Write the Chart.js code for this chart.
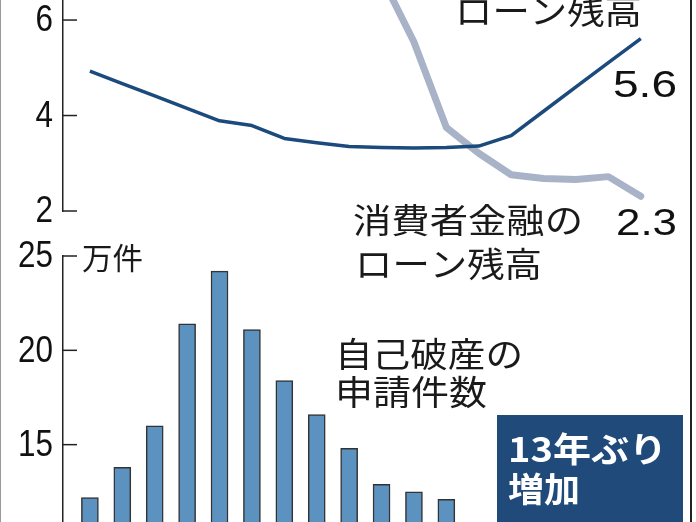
<!DOCTYPE html>
<html lang="ja">
<head>
<meta charset="utf-8">
<script src="https://cdn.jsdelivr.net/npm/chart.js@4.4.0/dist/chart.umd.min.js"></script>
<style>
  html, body { margin: 0; padding: 0; background: #fff; }
  #wrap { position: relative; width: 696px; height: 522px; overflow: hidden; }
  #wrap canvas { position: absolute; left: 0; top: 0; }
  #frame { position: absolute; left: 0; top: 0; width: 689px; height: 522px;
           border-left: 1.5px solid #9a9a9a; border-right: 2.5px solid #222; pointer-events: none; }
</style>
</head>
<body>
<div id="wrap">
  <canvas id="barChart" width="696" height="522"></canvas>
  <canvas id="lineChart" width="696" height="522"></canvas>
  <div id="frame"></div>
</div>
<script>
// 年
const years = [1999, 2000, 2001, 2002, 2003, 2004, 2005, 2006, 2007,
               2008, 2009, 2010, 2011, 2012, 2013, 2014, 2015, 2016];
// 自己破産の申請件数（万件）  2011年以降は下端で切れていて見えない
const bankruptcy = [12.2, 13.8, 16.0, 21.4, 24.2, 21.1, 18.4, 16.6, 14.8,
                    12.9, 12.5, 12.1, 10.0, 8.2, 7.2, 6.5, 6.3, 6.4];
// 銀行カードローン残高（兆円）
const bankLoan = [4.93, 4.67, 4.41, 4.15, 3.89, 3.79, 3.52, 3.43, 3.35,
                  3.33, 3.32, 3.33, 3.36, 3.58, 4.09, 4.60, 5.11, 5.61];
// 消費者金融のローン残高（兆円）  2007年以前は上端の外
const consumerLoan = [8.5, 9.2, 9.8, 10.1, 10.0, 9.8, 9.9, 10.2, 9.0,
                      6.9, 5.54, 3.75, 3.21, 2.76, 2.68, 2.66, 2.72, 2.31];
const lineTicks = [2, 4, 6];
const barTicks = [15, 20, 25];

const jpFont = "'Noto Sans CJK JP'";

function xAxis() {
  return { type: "linear", display: false, offset: false, min: 1998.17, max: 2017.21 };
}

function yAxis(min, max, ticks) {
  return {
    min: min,
    max: max,
    afterBuildTicks: (s) => { s.ticks = ticks.map((v) => ({ value: v })); },
    afterFit: (s) => { s.width = 63; s.paddingTop = 0; s.paddingBottom = 0; },
    grid: { display: true, drawOnChartArea: false, drawTicks: false },
    border: { display: true, color: "#222", width: 1.5 },
    ticks: { display: false },
  };
}

//目盛りは軸の内側、数字は細めの字で軸の左に描く
const innerTicks = {
  id: "innerTicks",
  afterDraw(chart) {
    const { ctx, chartArea } = chart;
    const y = chart.scales.y;
    ctx.save();
    ctx.strokeStyle = "#222";
    ctx.lineWidth = 1.5;
    y.ticks.forEach((t) => {
      const py = y.getPixelForValue(t.value);
      ctx.beginPath();
      ctx.moveTo(chartArea.left, py);
      ctx.lineTo(chartArea.left + 14, py);
      ctx.stroke();
      ctx.save();
      ctx.font = "37px 'Liberation Sans'";
      ctx.fillStyle = "#111";
      ctx.textAlign = "right";
      ctx.textBaseline = "middle";
      ctx.translate(chartArea.left - 10, py + 1);
      ctx.scale(0.85, 1);
      ctx.fillText(String(t.value), 0, 0);
      ctx.restore();
    });
    ctx.restore();
  },
};

function fitText(ctx, str, x, y, width, font, color) {
  ctx.save();
  ctx.font = font;
  ctx.fillStyle = color;
  ctx.textBaseline = "middle";
  ctx.textAlign = "left";
  const w = ctx.measureText(str).width;
  ctx.translate(x, y);
  ctx.scale(width / w, 1);
  ctx.fillText(str, 0, 0);
  ctx.restore();
}

const lineLabels = {
  id: "lineLabels",
  afterDraw(chart) {
    const ctx = chart.ctx;
    fitText(ctx, "ローン残高", 455, 11, 187, "34px " + jpFont, "#1a1a1a");
    fitText(ctx, bankLoan[bankLoan.length - 1].toFixed(1), 613, 87, 64, "36px 'Liberation Sans'", "#111");
    fitText(ctx, consumerLoan[consumerLoan.length - 1].toFixed(1), 616, 225, 61, "36px 'Liberation Sans'", "#111");
    fitText(ctx, "消費者金融の", 353, 220, 230, "34px " + jpFont, "#1a1a1a");
    fitText(ctx, "ローン残高", 355, 264, 187, "34px " + jpFont, "#1a1a1a");
  },
};

const barLabels = {
  id: "barLabels",
  afterDraw(chart) {
    const ctx = chart.ctx;
    fitText(ctx, "万件", 82, 258, 61, "30px " + jpFont, "#1a1a1a");
    fitText(ctx, "自己破産の", 335, 354, 188, "34px " + jpFont, "#1a1a1a");
    fitText(ctx, "申請件数", 335, 392, 152, "34px " + jpFont, "#1a1a1a");
    ctx.save();
    ctx.fillStyle = "#1f4a7a";
    ctx.fillRect(497, 415, 186, 120);
    ctx.restore();
    fitText(ctx, "13年ぶり", 508, 449, 159, "bold 34px " + jpFont, "#fff");
    fitText(ctx, "増加", 508, 489, 72, "bold 34px " + jpFont, "#fff");
  },
};

new Chart(document.getElementById("lineChart"), {
  type: "line",
  data: {
    datasets: [
      {
        label: "銀行カードローン残高",
        data: bankLoan.map((v, i) => ({ x: years[i], y: v })),
        borderColor: "#1b4a7c",
        borderWidth: 3.5,
        borderJoinStyle: "round",
        pointRadius: 0,
        tension: 0,
      },
      {
        label: "消費者金融のローン残高",
        data: consumerLoan.map((v, i) => ({ x: years[i], y: v })),
        borderColor: "#a9b3c8",
        borderWidth: 7,
        borderCapStyle: "round",
        borderJoinStyle: "round",
        pointRadius: 0,
        tension: 0,
      },
    ],
  },
  plugins: [innerTicks, lineLabels],
  options: {
    responsive: false,
    animation: false,
    layout: { padding: { top: 0, bottom: 311, left: 0, right: 16 } },
    plugins: { legend: { display: false }, tooltip: { enabled: false } },
    scales: { x: xAxis(), y: yAxis(2, 6.42, lineTicks) },
  },
});

new Chart(document.getElementById("barChart"), {
  type: "bar",
  data: {
    datasets: [
      {
        label: "自己破産の申請件数",
        data: bankruptcy.map((v, i) => ({ x: years[i], y: v })),
        backgroundColor: "#5b92bf",
        borderColor: "#333",
        borderWidth: 1.5,
        barThickness: 17,
      },
    ],
  },
  plugins: [innerTicks, barLabels],
  options: {
    responsive: false,
    animation: false,
    layout: { padding: { top: 256, bottom: 0, left: 0, right: 16 } },
    plugins: { legend: { display: false }, tooltip: { enabled: false } },
    scales: { x: xAxis(), y: yAxis(10.9, 25, barTicks) },
  },
});
</script>
</body>
</html>
